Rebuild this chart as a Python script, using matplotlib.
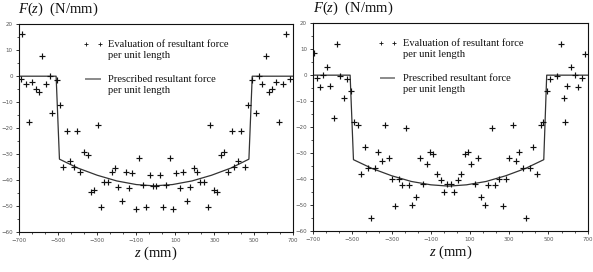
import matplotlib

matplotlib.use("Agg")

import matplotlib.pyplot as plt
import numpy as np
from matplotlib.ticker import FixedLocator, MultipleLocator

INK = "#111111"
TICK = "#555555"
LEGEND_LINE = "#8a8a8a"
SERIF = "Liberation Serif"

# left panel: evaluated resultant force per unit length (z in mm, F in N/mm)
left_z = [-690, -686, -666, -649, -632, -613, -596, -580, -560, -543, -529, -507,
          -490, -473, -456, -439, -418, -404, -387, -367, -348, -333, -314, -297,
          -281, -264, -245, -225, -211, -194, -173, -155, -139, -121, -104, -88,
          -68, -51, -32, -16, 1, 20, 35, 52, 71, 88, 105, 124, 141, 158, 177, 194,
          211, 226, 247, 266, 279, 298, 315, 334, 348, 370, 387, 402, 421, 438,
          455, 472, 491, 510, 527, 544, 565, 580, 596, 614, 631, 650, 664, 686]
left_f = [-1.2, 16.2, -3.2, -17.8, -2.4, -4.9, -6.2, 7.9, -2.9, 0.0, -14.1, -1.4,
          -11.2, -35.0, -21.2, -32.6, -35.1, -21.2, -37.1, -29.2, -30.3, -44.7,
          -43.8, -19.0, -50.6, -41.0, -41.0, -36.8, -35.4, -42.7, -48.2, -36.9,
          -43.2, -37.3, -51.4, -31.4, -41.8, -50.5, -38.3, -42.4, -42.4, -38.3,
          -50.5, -41.8, -31.4, -51.4, -37.3, -43.2, -36.9, -48.2, -42.7, -35.4,
          -36.8, -41.0, -41.0, -50.6, -19.0, -43.8, -44.7, -30.3, -29.2, -37.1,
          -21.2, -35.1, -32.6, -21.2, -35.0, -11.2, -1.4, -14.1, 0.0, -2.9, 7.9,
          -6.2, -4.9, -2.4, -17.8, -3.2, 16.2, -1.2]

# left panel: prescribed resultant force
left_line_z = [-700, -510, -493, -400, -300, -200, -100, -8, 85, 185, 285, 385, 476, 493, 700]
left_line_f = [0, 0, -32.0, -35.4, -38.2, -40.4, -41.8, -42.3, -41.8, -40.4, -38.2,
               -35.4, -32.0, 0, 0]

# right panel: evaluated resultant force per unit length
right_z = [-697, -683, -666, -649, -632, -613, -596, -580, -562, -541, -527, -510,
           -490, -473, -457, -438, -421, -404, -387, -368, -350, -333, -315, -297,
           -283, -264, -247, -225, -211, -196, -175, -155, -139, -122, -103, -88,
           -69, -50, -32, -16, 3, 20, 37, 54, 73, 91, 107, 126, 143, 158, 177, 194,
           214, 228, 249, 266, 283, 300, 317, 334, 351, 370, 385, 406, 423, 440,
           460, 474, 491, 510, 546, 565, 577, 584, 597, 616, 633, 650, 669, 686]
right_f = [8.5, -1.2, -4.6, -0.1, 3.3, -4.1, -16.5, 12.1, -0.4, -8.7, -1.5, -6.0,
           -18.2, -19.2, -38.2, -27.6, -36.0, -55.1, -35.8, -29.5, -33.2, -19.2,
           -31.9, -39.9, -50.5, -39.9, -42.2, -20.5, -42.2, -50.0, -47.1, -32.1,
           -41.8, -34.1, -29.7, -30.4, -38.3, -40.6, -45.1, -41.8, -41.8, -45.1,
           -40.6, -38.3, -30.4, -29.7, -34.1, -41.8, -32.1, -47.1, -50.0, -42.2,
           -20.5, -42.2, -39.9, -50.5, -39.9, -31.9, -19.2, -33.2, -29.5, -35.8,
           -55.1, -36.0, -27.6, -38.2, -19.2, -18.2, -6.0, -1.5, -0.4, 12.1, -8.7,
           -18.1, -4.1, 3.3, -0.1, -4.6, -1.2, 8.2]

right_line_z = [-700, -512, -495, -400, -300, -200, -100, -9, 82, 182, 282, 382, 476, 491, 700]
right_line_f = [0, 0, -32.6, -36.0, -38.8, -41.0, -42.3, -42.8, -42.3, -41.0, -38.8,
                -36.0, -32.6, 0, 0]

X_LABEL_TICKS = [-700, -500, -300, -100, 100, 300, 500, 700]
EVAL_LABEL = ["Evaluation of resultant force", "per unit length"]
PRESC_LABEL = ["Prescribed resultant force", "per unit length"]

plt.rcParams["mathtext.fontset"] = "custom"
plt.rcParams["mathtext.it"] = "Liberation Serif:italic"
plt.rcParams["mathtext.rm"] = "Liberation Serif"


def style_axis(axis):
    axis.set_xlim(-700, 700)
    axis.set_ylim(-60, 20)
    axis.xaxis.set_major_locator(FixedLocator(X_LABEL_TICKS))
    axis.xaxis.set_minor_locator(FixedLocator(np.arange(-700, 701, 200 / 3)))
    axis.yaxis.set_major_locator(MultipleLocator(10))
    axis.yaxis.set_minor_locator(MultipleLocator(5))
    axis.tick_params(which="major", direction="out", length=2.5, width=0.6,
                     labelsize=4, colors=INK, labelcolor=TICK, pad=2)
    axis.tick_params(which="minor", direction="out", length=1.5, width=0.5,
                     colors=INK)
    for spine in axis.spines.values():
        spine.set_linewidth(0.8)
        spine.set_color(INK)


def draw_legend(axis):
    tr = axis.transAxes
    axis.plot([0.245, 0.296], [0.904, 0.904], linestyle="none", marker="+",
              markersize=3.5, markeredgewidth=0.6, color=INK, transform=tr)
    axis.plot([0.245, 0.296], [0.736, 0.736], color=LEGEND_LINE, linewidth=1.4,
              transform=tr)
    for y, text in zip([0.904, 0.851], EVAL_LABEL):
        axis.text(0.327, y, text, transform=tr, fontsize=7.6, family=SERIF,
                  color=INK, va="center", ha="left")
    for y, text in zip([0.736, 0.683], PRESC_LABEL):
        axis.text(0.327, y, text, transform=tr, fontsize=7.6, family=SERIF,
                  color=INK, va="center", ha="left")


def panel(figure, rect, z, f, line_z, line_f):
    axis = figure.add_axes(rect)
    axis.plot(line_z, line_f, color="#333333", linewidth=0.9)
    axis.plot(z, f, linestyle="none", marker="+", markersize=5,
              markeredgewidth=0.85, color=INK)
    style_axis(axis)
    draw_legend(axis)
    axis.text(0.5, -0.106, "$z$ (mm)", transform=axis.transAxes, fontsize=10.5,
              family=SERIF, color=INK, ha="center", va="center")
    axis.text(-0.002, 1.072, "$F$($z$)  (N/mm)", transform=axis.transAxes,
              fontsize=10.5, family=SERIF, color=INK, ha="left", va="center")
    return axis


figure = plt.figure(figsize=(5.93, 2.72), dpi=100, facecolor="white")
panel(figure, [0.032, 0.148, 0.4616, 0.7625], left_z, left_f, left_line_z, left_line_f)
panel(figure, [0.5283, 0.1518, 0.4627, 0.7625], right_z, right_f, right_line_z, right_line_f)
figure.savefig("out.png", dpi=100, facecolor="white")
